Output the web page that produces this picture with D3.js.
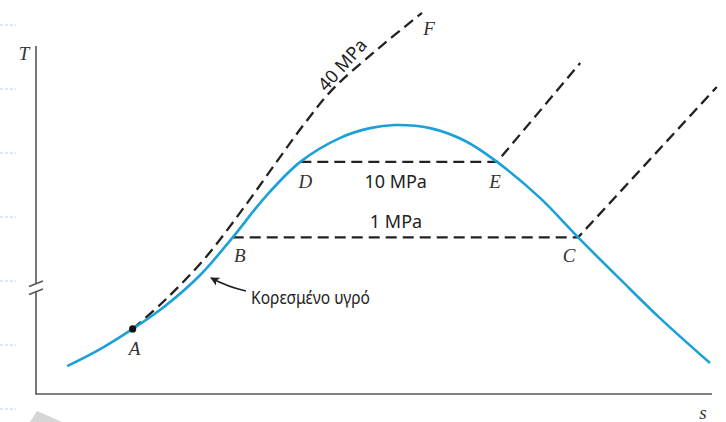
<!DOCTYPE html>
<html>
<head>
<meta charset="utf-8">
<script src="https://cdn.jsdelivr.net/npm/d3@7"></script>
<style>
  html, body { margin: 0; padding: 0; background: #fff; }
  svg { display: block; }
  .lbl { font-family: "Liberation Serif", "DejaVu Serif", serif; font-style: italic; font-size: 19px; fill: #333; }
  .txt { font-family: "Noto Sans", "Open Sans", sans-serif; font-size: 18px; fill: #222; }
</style>
</head>
<body>
<svg id="chart" width="726" height="422"></svg>
<script>
// T–s diagram of water: saturation dome and three isobars (arbitrary units, 0–100 on each axis)

// saturation dome [s, T]
const dome = [
  [4.6, 8.0], [9.5, 12.9], [14.3, 18.7], [19.1, 25.3], [24.3, 34.2],
  [29.1, 45.0], [33.9, 56.6], [39.1, 66.7], [45.0, 73.6], [49.4, 76.4],
  [53.1, 77.3], [58.3, 76.4], [63.5, 72.7], [68.2, 66.7], [74.6, 56.3],
  [80.2, 45.0], [86.4, 33.0], [92.3, 21.8], [99.7, 8.9]
];

// 40 MPa isobar, from compressed liquid A up to F
const p40 = [
  [14.3, 18.7], [19.1, 27.0], [24.9, 38.8], [30.8, 53.7], [35.7, 67.0],
  [39.8, 77.9], [43.9, 87.6], [50.9, 99.7], [57.1, 109.5]
];

// 10 MPa isobar: D -> E, then superheated branch
const p10 = [[39.1, 66.7], [68.2, 66.7], [80.5, 95.1]];

// 1 MPa isobar: B -> C, then superheated branch
const p1 = [[29.1, 45.0], [80.2, 45.0], [100.7, 88.2]];

// state point labels [name, s, T]
const states = [
  ["A", 14.3, 18.7], ["B", 29.1, 45.0], ["C", 80.2, 45.0],
  ["D", 39.1, 66.7], ["E", 68.2, 66.7], ["F", 57.1, 109.5]
];

const pressureLabels = ["40 MPa", "10 MPa", "1 MPa"];
const liquidLabel = "Κορεσμένο υγρό";

const svg = d3.select("#chart");

const x = d3.scaleLinear().domain([0, 100]).range([36, 712]);
const y = d3.scaleLinear().domain([0, 100]).range([394, 46]);

const blue = "#1ba1d8";
const ink = "#222";

// faint page-edge marks
const edgeMarks = [25, 89, 153, 217, 281, 345, 409];
svg.selectAll("line.edge").data(edgeMarks).join("line")
  .attr("class", "edge")
  .attr("x1", 0).attr("x2", 16)
  .attr("y1", d => d).attr("y2", d => d)
  .attr("stroke", "#b7cfe9").attr("stroke-width", 1)
  .attr("stroke-dasharray", "3,2");
svg.append("path")
  .attr("d", "M30,422 L37,411 L62,422 Z")
  .attr("fill", "#d6d6d6");

// axes
const axisCol = "#555";
const g = svg.append("g");
g.append("line").attr("x1", x(0)).attr("x2", x(0)).attr("y1", y(100)).attr("y2", 284)
  .attr("stroke", axisCol).attr("stroke-width", 1.6);
g.append("line").attr("x1", x(0)).attr("x2", x(0)).attr("y1", 291).attr("y2", y(0))
  .attr("stroke", axisCol).attr("stroke-width", 1.6);
g.append("line").attr("x1", x(0) - 0.8).attr("x2", x(100)).attr("y1", y(0)).attr("y2", y(0))
  .attr("stroke", axisCol).attr("stroke-width", 1.6);
// axis break
[[286.5, 281], [294.5, 289]].forEach(([a, b]) => {
  g.append("line").attr("x1", 29).attr("y1", a).attr("x2", 43).attr("y2", b)
    .attr("stroke", axisCol).attr("stroke-width", 1.6);
});

svg.append("text").attr("class", "lbl").attr("x", 24).attr("y", 60)
  .attr("text-anchor", "middle").text("T");
svg.append("text").attr("class", "lbl").attr("x", 703).attr("y", 419)
  .attr("text-anchor", "middle").text("s");

// isobars
const isoLine = d3.line().x(d => x(d[0])).y(d => y(d[1]));
const smooth = d3.line().x(d => x(d[0])).y(d => y(d[1])).curve(d3.curveCatmullRom.alpha(0.5));

const dashStyle = sel => sel.attr("fill", "none").attr("stroke", ink)
  .attr("stroke-width", 2.3).attr("stroke-dasharray", "11,6");

svg.append("path").datum(p1).attr("d", isoLine).call(dashStyle);
svg.append("path").datum(p10).attr("d", isoLine).call(dashStyle);
svg.append("path").datum(p40).attr("d", smooth).call(dashStyle);

// saturation dome
svg.append("path").datum(dome)
  .attr("d", smooth)
  .attr("fill", "none").attr("stroke", blue).attr("stroke-width", 2.6);

// point A marker
svg.append("circle").attr("cx", x(states[0][1])).attr("cy", y(states[0][2]))
  .attr("r", 3.6).attr("fill", "#111");

// state labels
const labelOffsets = { A: [2, 26], B: [7, 25], C: [-9, 25], D: [5, 26], E: [-2, 26], F: [7, 22] };
svg.selectAll("text.state").data(states).join("text")
  .attr("class", "lbl state")
  .attr("x", d => x(d[1]) + labelOffsets[d[0]][0])
  .attr("y", d => y(d[2]) + labelOffsets[d[0]][1])
  .attr("text-anchor", "middle")
  .text(d => d[0]);

// pressure labels
svg.append("text").attr("class", "txt")
  .attr("transform", `translate(${347},${69}) rotate(-48)`)
  .attr("text-anchor", "middle").text(pressureLabels[0]);
svg.append("text").attr("class", "txt")
  .attr("x", (x(p10[0][0]) + x(p10[1][0])) / 2 - 3).attr("y", y(p10[0][1]) + 26)
  .attr("text-anchor", "middle").text(pressureLabels[1]);
svg.append("text").attr("class", "txt")
  .attr("x", 396).attr("y", y(p1[0][1]) - 9)
  .attr("text-anchor", "middle").text(pressureLabels[2]);

// saturated liquid callout
svg.append("defs").append("marker")
  .attr("id", "head").attr("viewBox", "0 0 10 10")
  .attr("refX", 9).attr("refY", 5)
  .attr("markerWidth", 9).attr("markerHeight", 9)
  .attr("markerUnits", "userSpaceOnUse")
  .attr("orient", "auto")
  .append("path").attr("d", "M0,0 L10,5 L0,10 L2.5,5 Z").attr("fill", ink);
svg.append("path")
  .attr("d", "M246,291 Q228,287 211,278")
  .attr("fill", "none").attr("stroke", ink).attr("stroke-width", 1.6)
  .attr("marker-end", "url(#head)");
svg.append("text").attr("class", "txt")
  .attr("x", 251).attr("y", 304)
  .attr("textLength", 119).attr("lengthAdjust", "spacingAndGlyphs")
  .text(liquidLabel);
</script>
</body>
</html>
